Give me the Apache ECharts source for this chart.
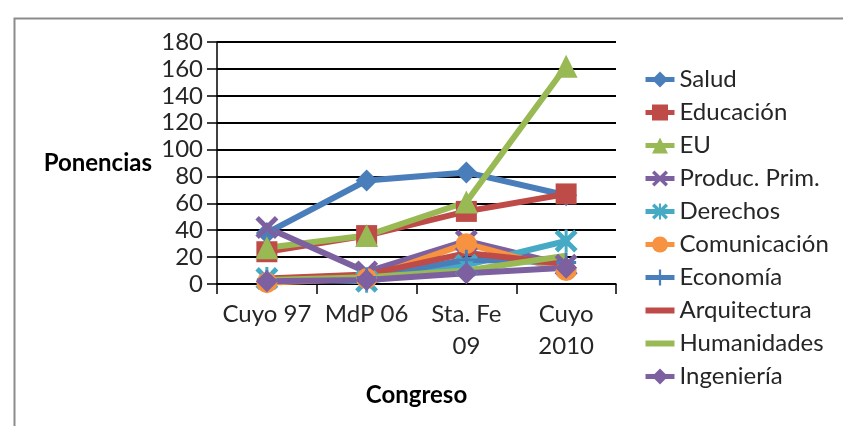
<!DOCTYPE html>
<html>
<head>
<meta charset="utf-8">
<script src="https://cdn.jsdelivr.net/npm/echarts@6/dist/echarts.min.js"></script>
<style>
  html, body { margin: 0; padding: 0; background: #fff; }
  #chart { width: 843px; height: 426px; }
</style>
</head>
<body>
<div id="chart"></div>
<script>
// Congress editions on the category axis
const categories = ['Cuyo 97', 'MdP 06', 'Sta. Fe 09', 'Cuyo 2010'];
const tickLabels = ['Cuyo 97', 'MdP 06', 'Sta. Fe\n09', 'Cuyo\n2010'];

// Number of papers per thematic area
const salud        = [38, 77, 83, 66];
const educacion    = [24, 36, 54, 67];
const eu           = [27, 36, 61, 162];
const producPrim   = [42, 9, 32, 14];
const derechos     = [4, 2, 14, 32];
const comunicacion = [1, 4, 30, 10];
const economia     = [3, 5, 18, 16];
const arquitectura = [4, 7, 23, 15];
const humanidades  = [3, 5, 10, 21];
const ingenieria   = [2, 3, 8, 12];

const yTicks = [0, 20, 40, 60, 80, 100, 120, 140, 160, 180];

// Marker shapes
const X_PATH = 'path://M3,0 L10,7 L17,0 L20,3 L13,10 L20,17 L17,20 L10,13 L3,20 L0,17 L7,10 L0,3 Z';
const STAR_PATH = 'path://M3,0 L10,7 L17,0 L20,3 L13,10 L20,17 L17,20 L10,13 L3,20 L0,17 L7,10 L0,3 Z M8.7,0 L11.3,0 L11.3,20 L8.7,20 Z';
const PLUS_PATH = 'path://M8.6,0 L11.4,0 L11.4,8.6 L20,8.6 L20,11.4 L11.4,11.4 L11.4,20 L8.6,20 L8.6,11.4 L0,11.4 L0,8.6 L8.6,8.6 Z';
// Plain bar used as legend icon for the line-only series
const BAR_ICON = 'path://M0,0 L29,0 L29,6 L0,6 Z';

const seriesDefs = [
  { name: 'Salud',         data: salud,        color: '#4A7EBB', symbol: 'diamond',  size: 22 },
  { name: 'Educación',     data: educacion,    color: '#BE4B48', symbol: 'rect',     size: 21 },
  { name: 'EU',            data: eu,           color: '#98B954', symbol: 'triangle', size: 23 },
  { name: 'Produc. Prim.', data: producPrim,   color: '#7D60A0', symbol: X_PATH,     size: 23 },
  { name: 'Derechos',      data: derechos,     color: '#46AAC5', symbol: STAR_PATH,  size: 23 },
  { name: 'Comunicación',  data: comunicacion, color: '#F69240', symbol: 'circle',   size: 21 },
  { name: 'Economía',      data: economia,     color: '#4A7EBB', symbol: PLUS_PATH,  size: 20 },
  { name: 'Arquitectura',  data: arquitectura, color: '#BE4B48', symbol: 'none',     size: 0 },
  { name: 'Humanidades',   data: humanidades,  color: '#98B954', symbol: 'none',     size: 0 },
  { name: 'Ingeniería',    data: ingenieria,   color: '#7D60A0', symbol: 'diamond',  size: 22 }
];

const FONT = 'Lato';
const TEXT_COLOR = '#262626';

const chart = echarts.init(document.getElementById('chart'), null, { renderer: 'canvas' });

chart.setOption({
  animation: false,
  backgroundColor: '#ffffff',
  graphic: [{
    type: 'rect',
    left: 12, top: 16,
    shape: { width: 840, height: 420 },
    style: { fill: 'none', stroke: '#8c8c8c', lineWidth: 2 },
    silent: true,
    z: -10
  }],
  grid: { left: 217, right: 227, top: 42, bottom: 142, containLabel: false },
  legend: {
    orient: 'vertical',
    left: 643,
    top: 63,
    padding: 0,
    itemWidth: 29,
    itemHeight: 20,
    itemGap: 0,
    itemTextGap: 3,
    symbolKeepAspect: true,
    lineStyle: { width: 5 },
    itemStyle: { borderWidth: 0 },
    textStyle: { fontFamily: FONT, fontSize: 24, color: TEXT_COLOR, lineHeight: 33 },
    data: seriesDefs.map(s => s.symbol === 'none' ? { name: s.name, icon: BAR_ICON } : { name: s.name })
  },
  xAxis: {
    type: 'category',
    data: categories,
    boundaryGap: true,
    name: 'Congreso',
    nameLocation: 'middle',
    nameGap: 99,
    nameTextStyle: { fontFamily: FONT, fontSize: 24, fontWeight: 'bold', color: '#000' },
    axisLine: { show: true, lineStyle: { color: '#000', width: 1.5 } },
    axisTick: { show: true, length: 10, lineStyle: { color: '#000', width: 1.5 } },
    axisLabel: {
      fontFamily: FONT, fontSize: 24, color: TEXT_COLOR, lineHeight: 32, margin: 14,
      interval: 0,
      formatter: (v, i) => tickLabels[i]
    }
  },
  yAxis: {
    type: 'value',
    min: 0,
    max: yTicks[yTicks.length - 1],
    interval: 20,
    name: 'Ponencias',
    nameLocation: 'middle',
    nameRotate: 0,
    nameGap: 65,
    nameTextStyle: { fontFamily: FONT, fontSize: 24, fontWeight: 'bold', color: '#000' },
    axisLine: { show: true, lineStyle: { color: '#000', width: 1.5 } },
    axisTick: { show: true, length: 10, lineStyle: { color: '#000', width: 1.5 } },
    axisLabel: { fontFamily: FONT, fontSize: 24, color: TEXT_COLOR, margin: 14 },
    splitLine: { show: true, lineStyle: { color: '#000', width: 2 } }
  },
  series: seriesDefs.map(s => ({
    name: s.name,
    type: 'line',
    data: s.data,
    symbol: s.symbol,
    symbolSize: s.size,
    showSymbol: s.symbol !== 'none',
    lineStyle: { color: s.color, width: 6 },
    itemStyle: { color: s.color, borderWidth: 0 },
    emphasis: { disabled: true }
  }))
});
</script>
</body>
</html>
